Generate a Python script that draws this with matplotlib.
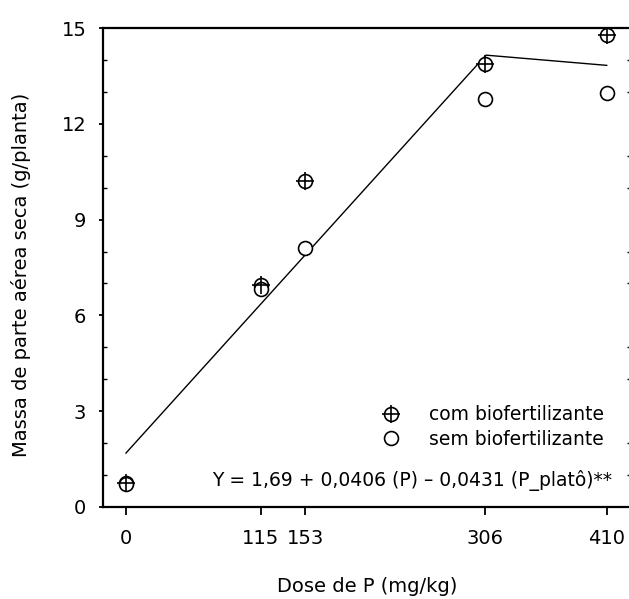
import matplotlib
matplotlib.use("Agg")
import matplotlib.pyplot as plt
from matplotlib.ticker import MultipleLocator

plt.rcParams['font.family'] = ['DejaVu Sans']

# dose de P (mg/kg)
doses = [0, 115, 153, 306, 410]
# massa de parte aerea seca (g/planta)
com_bio = [0.75, 6.95, 10.22, 13.88, 14.78]
sem_bio = [0.72, 6.84, 8.11, 12.77, 12.98]

# linear-plateau fit
fit_x = [0, 307, 410]
fit_y = [1.69, 14.15, 13.83]

equation = "Y = 1,69 + 0,0406 (P) \u2013 0,0431 (P_plat\u00f4)**"

fig = plt.figure(figsize=(6.29, 5.99), dpi=100)
ax = fig.add_axes([103 / 629, 92 / 599, 528 / 629, 479 / 599])

ax.plot(fit_x, fit_y, color="black", lw=1.0, zorder=2)

h_circ, = ax.plot(doses, com_bio, ls="none", marker="o", ms=10, mfc="white",
                  mec="black", mew=1.2, zorder=3)
h_plus, = ax.plot(doses, com_bio, ls="none", marker="+", ms=12.5,
                  mec="black", mew=1.2, zorder=4)
h_sem, = ax.plot(doses, sem_bio, ls="none", marker="o", ms=10, mfc="white",
                 mec="black", mew=1.2, zorder=3)

ax.legend([(h_circ, h_plus), h_sem], ["com biofertilizante", "sem biofertilizante"],
          loc="upper left", bbox_to_anchor=(0.51, 0.232), frameon=False,
          fontsize=13.5, handlelength=1.0, handletextpad=1.55, borderpad=0,
          labelspacing=0.3)

ax.text(0.965, 0.056, equation, transform=ax.transAxes, ha="right", va="center",
        fontsize=13.5)

ax.set_xlim(-19.6, 430.7)
ax.set_ylim(0, 15)
ax.set_xticks(doses)
ax.set_xticklabels(["0", "115", "153", "306", "410"])
ax.yaxis.set_major_locator(MultipleLocator(3))
ax.yaxis.set_minor_locator(MultipleLocator(1))

ax.spines["right"].set_visible(False)
for s in ["left", "bottom", "top"]:
    ax.spines[s].set_linewidth(1.6)

ax.tick_params(axis="x", which="major", direction="out", length=6, width=1.3,
               labelsize=14, pad=10)
ax.tick_params(axis="y", which="major", direction="out", length=3, width=1.3,
               labelsize=14, pad=9, right=True)
ax.tick_params(axis="y", which="minor", direction="in", length=3, width=1.0,
               right=True)

ax.set_xlabel("Dose de P (mg/kg)", fontsize=14, labelpad=21)
ax.set_ylabel("Massa de parte a\u00e9rea seca (g/planta)", fontsize=14,
              labelpad=22, y=0.484)

fig.savefig("out.png", dpi=100)
